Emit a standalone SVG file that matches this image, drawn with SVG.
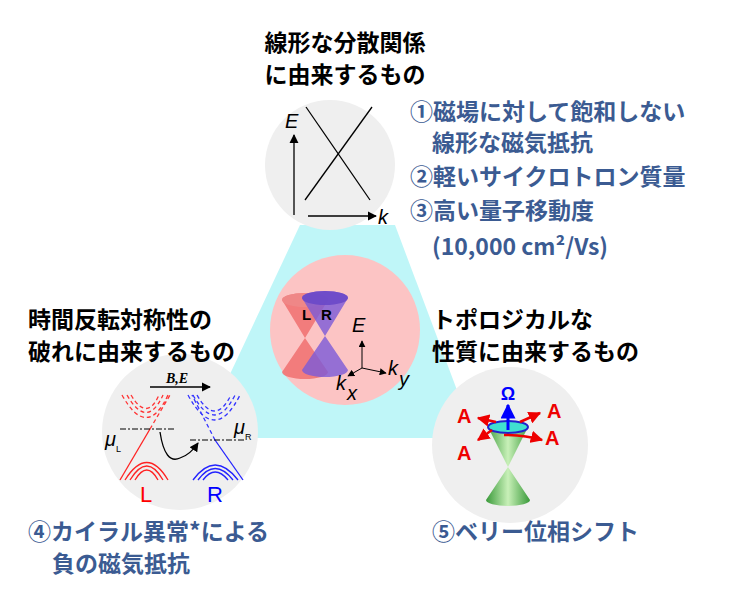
<svg xmlns="http://www.w3.org/2000/svg" width="737" height="604" viewBox="0 0 737 604">
<defs>
<style>
.h{font-family:"Noto Sans CJK JP","Noto Sans",sans-serif;font-weight:bold;font-size:23px;fill:#000}
.b{font-family:"Noto Sans CJK JP","Noto Sans",sans-serif;font-weight:bold;font-size:23px;fill:#3b5b92}
.it{font-family:"Liberation Sans",Arial,sans-serif;font-style:italic;font-size:20px;fill:#000}
.gc{fill:#efefef}
</style>
<marker id="ar" viewBox="0 0 10 10" refX="9" refY="5" markerWidth="7" markerHeight="7" orient="auto-start-reverse"><path d="M0,0L10,5L0,10z" fill="#000"/></marker>
<marker id="rr" viewBox="0 0 10 10" refX="9" refY="5" markerWidth="5" markerHeight="5" orient="auto"><path d="M0,0L10,5L0,10z" fill="#e00"/></marker>
<marker id="br" viewBox="0 0 10 10" refX="9" refY="5" markerWidth="5" markerHeight="5" orient="auto"><path d="M0,0L10,5L0,10z" fill="#00f"/></marker>
<linearGradient id="gr" x1="0" x2="1"><stop offset="0" stop-color="#3a9a3a"/><stop offset="0.5" stop-color="#c8f0b8"/><stop offset="1" stop-color="#3a9a3a"/></linearGradient>
</defs>
<polygon points="300,225 395,225 475,438 200,438" fill="#bff6f8"/>
<g id="top">
<circle cx="330" cy="165" r="65" class="gc"/>
<line x1="294" y1="215" x2="294" y2="135" stroke="#000" stroke-width="1.3" marker-end="url(#ar)"/>
<line x1="308" y1="216" x2="376" y2="216" stroke="#000" stroke-width="1.3" marker-end="url(#ar)"/>
<line x1="306" y1="107" x2="370" y2="200" stroke="#000" stroke-width="1.3"/>
<line x1="372" y1="107" x2="305" y2="200" stroke="#000" stroke-width="1.3"/>
<text x="285" y="128" class="it">E</text>
<text x="378" y="224" class="it">k</text>
</g>
<g id="center">
<circle cx="345" cy="330" r="75" fill="#fcc4c4"/>
<path d="M282,300 L305,338 L282,372 A23,7 0 0 0 328,372 L305,338 L328,300 A23,7 0 0 0 282,300z" fill="#f07070" opacity="0.85"/>
<ellipse cx="305" cy="300" rx="23" ry="7" fill="#e88" opacity="0.9"/>
<path d="M302,298 L325,336 L302,370 A23,7 0 0 0 348,370 L325,336 L348,298 A23,7 0 0 0 302,298z" fill="#7a5ad8" opacity="0.8"/>
<ellipse cx="325" cy="298" rx="23" ry="7" fill="#6a48c8" opacity="0.9"/>
<text x="302" y="320" font-family="Liberation Sans,sans-serif" font-weight="bold" font-size="15">L</text>
<text x="321" y="320" font-family="Liberation Sans,sans-serif" font-weight="bold" font-size="15">R</text>
<line x1="362" y1="368" x2="362" y2="341" stroke="#000" marker-end="url(#ar)"/>
<line x1="362" y1="368" x2="386" y2="373" stroke="#000" marker-end="url(#ar)"/>
<line x1="362" y1="368" x2="348" y2="376" stroke="#000" marker-end="url(#ar)"/>
<text x="352" y="332" class="it">E</text>
<text x="388" y="375" class="it">k</text><text x="399" y="386" class="it" font-size="13">y</text>
<text x="336" y="390" class="it">k</text><text x="347" y="400" class="it" font-size="13">x</text>
</g>
<g id="left">
<circle cx="180" cy="432" r="78" class="gc"/>
<text x="166" y="383" font-family="Liberation Serif,serif" font-weight="bold" font-style="italic" font-size="14">B,E</text>
<line x1="150" y1="387" x2="210" y2="387" stroke="#000" stroke-width="1.3" marker-end="url(#ar)"/>
<g fill="none" stroke="#f33" stroke-width="1.3" stroke-dasharray="4,3">
<path d="M122,395 Q147,440 168,395"/><path d="M127,395 Q147,430 163,395"/><path d="M131,395 Q147,422 159,395"/>
<path d="M150,429 L170,395"/>
</g>
<g fill="none" stroke="#33f" stroke-width="1.3" stroke-dasharray="4,3">
<path d="M188,395 Q215,445 240,395"/><path d="M193,395 Q215,435 235,395"/><path d="M197,395 Q215,427 231,395"/>
<path d="M215,440 L192,395"/>
</g>
<g fill="none" stroke="#f22" stroke-width="1.3">
<path d="M150,429 L120,480"/><path d="M125,480 Q147,445 168,480"/><path d="M130,480 Q147,452 163,480"/><path d="M135,480 Q147,460 158,480"/>
</g>
<g fill="none" stroke="#22f" stroke-width="1.3">
<path d="M215,440 L243,480"/><path d="M193,480 Q215,450 238,480"/><path d="M198,480 Q215,457 233,480"/><path d="M203,480 Q215,464 228,480"/>
</g>
<g stroke="#000" stroke-dasharray="6,2,2,2"><line x1="120" y1="429" x2="175" y2="429"/><line x1="190" y1="440" x2="245" y2="440"/></g>
<path d="M160,432 Q165,465 180,458 Q190,455 198,443" fill="none" stroke="#000" stroke-width="1.3" marker-end="url(#ar)"/>
<text x="105" y="446" class="it" font-size="15">μ</text><text x="116" y="452" font-family="Liberation Sans,sans-serif" font-size="9">L</text>
<text x="234" y="434" class="it" font-size="15">μ</text><text x="245" y="440" font-family="Liberation Sans,sans-serif" font-size="9">R</text>
<text x="140" y="502" font-family="Liberation Sans,sans-serif" font-size="22" fill="#f00">L</text>
<text x="207" y="502" font-family="Liberation Sans,sans-serif" font-size="22" fill="#00f">R</text>
</g>
<g id="right">
<circle cx="510" cy="445" r="78" class="gc"/>
<path d="M488,427 L508,467 L486,500 A22,6 0 0 0 530,500 L508,467 L528,427z" fill="url(#gr)"/>
<ellipse cx="508" cy="427" rx="20" ry="6" fill="#40e0d0" stroke="#22c" stroke-width="2"/>
<line x1="508" y1="430" x2="508" y2="405" stroke="#00f" stroke-width="3" marker-end="url(#br)"/>
<text x="508" y="400" text-anchor="middle" font-family="Liberation Sans,sans-serif" font-weight="bold" font-size="18" fill="#00f">Ω</text>
<g stroke="#e00" stroke-width="2.5" fill="none">
<line x1="496" y1="422" x2="478" y2="418" marker-end="url(#rr)"/>
<line x1="492" y1="430" x2="478" y2="440" marker-end="url(#rr)"/>
<line x1="520" y1="422" x2="540" y2="413" marker-end="url(#rr)"/>
<path d="M504,435 Q525,435 542,440" marker-end="url(#rr)"/>
</g>
<g font-family="Liberation Sans,sans-serif" font-weight="bold" font-size="20" fill="#e00">
<text x="457" y="423">A</text><text x="547" y="418">A</text><text x="457" y="460">A</text><text x="545" y="445">A</text>
</g>
</g>
<g id="labels">
<text x="345" y="51" text-anchor="middle" class="h">線形な分散関係</text>
<text x="345" y="83" text-anchor="middle" class="h">に由来するもの</text>
<text x="410" y="120" class="b">①磁場に対して飽和しない</text>
<text x="432" y="151" class="b">線形な磁気抵抗</text>
<text x="410" y="185" class="b">②軽いサイクロトロン質量</text>
<text x="410" y="219" class="b">③高い量子移動度</text>
<text x="432" y="255" class="b">(10,000 cm²/Vs)</text>
<text x="28" y="328" class="h">時間反転対称性の</text>
<text x="28" y="360" class="h">破れに由来するもの</text>
<text x="432" y="328" class="h">トポロジカルな</text>
<text x="432" y="360" class="h">性質に由来するもの</text>
<text x="28" y="540" class="b">④カイラル異常*による</text>
<text x="52" y="572" class="b">負の磁気抵抗</text>
<text x="432" y="540" class="b">⑤ベリー位相シフト</text>
</g>
</svg>
